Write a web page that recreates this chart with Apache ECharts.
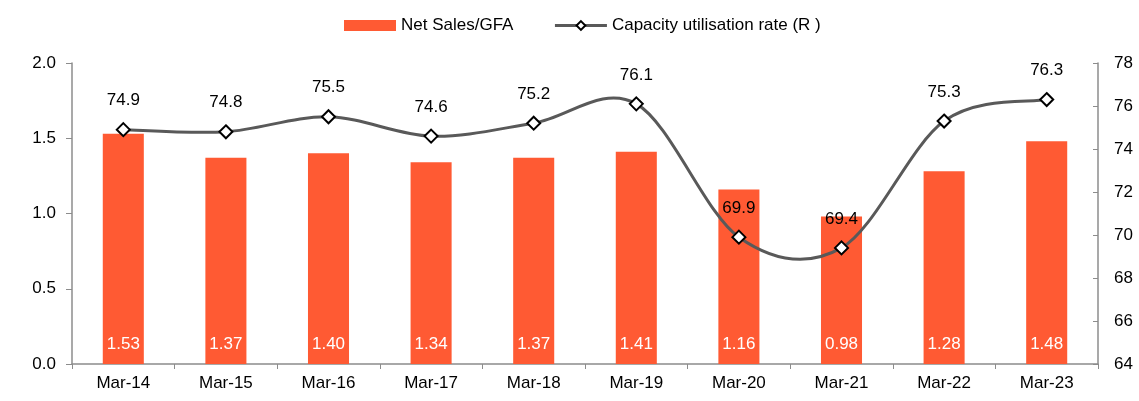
<!DOCTYPE html>
<html lang="en">
<head>
  <meta charset="UTF-8">
  <title>Net Sales/GFA</title>
  <script src="https://cdn.jsdelivr.net/npm/echarts@6/dist/echarts.min.js"></script>
  <style>
    html, body { margin: 0; padding: 0; background: #fff; }
    #chart { width: 1139px; height: 401px; }
  </style>
</head>
<body>
  <div id="chart"></div>
  <script>
    // data
    const categories = ['Mar-14', 'Mar-15', 'Mar-16', 'Mar-17', 'Mar-18', 'Mar-19', 'Mar-20', 'Mar-21', 'Mar-22', 'Mar-23'];
    const netSalesGfa = [1.53, 1.37, 1.40, 1.34, 1.37, 1.41, 1.16, 0.98, 1.28, 1.48];
    const capacityUtil = [74.9, 74.8, 75.5, 74.6, 75.2, 76.1, 69.9, 69.4, 75.3, 76.3];

    const FONT = "'Liberation Sans', Arial, sans-serif";
    const FS = 17;
    const axisGray = '#8c8c8c';
    const barColor = '#ff5a33';
    const lineColor = '#595959';

    const myChart = echarts.init(document.getElementById('chart'), null, { renderer: 'canvas' });

    // excel-style smooth curve through the points (catmull-rom -> bezier)
    function renderCurve(params, api) {
      if (params.dataIndex !== 0) return null;
      const pts = capacityUtil.map((v, i) => api.coord([i, v]));
      let d = 'M' + pts[0][0] + ' ' + pts[0][1];
      for (let i = 0; i < pts.length - 1; i++) {
        const p0 = pts[Math.max(i - 1, 0)];
        const p1 = pts[i];
        const p2 = pts[i + 1];
        const p3 = pts[Math.min(i + 2, pts.length - 1)];
        const c1x = p1[0] + (p2[0] - p0[0]) / 6, c1y = p1[1] + (p2[1] - p0[1]) / 6;
        const c2x = p2[0] - (p3[0] - p1[0]) / 6, c2y = p2[1] - (p3[1] - p1[1]) / 6;
        d += ' C' + c1x + ' ' + c1y + ' ' + c2x + ' ' + c2y + ' ' + p2[0] + ' ' + p2[1];
      }
      return {
        type: 'path',
        shape: { pathData: d },
        style: { fill: null, stroke: lineColor, lineWidth: 3 }
      };
    }

    const option = {
      animation: false,
      textStyle: { fontFamily: FONT },
      legend: {
        top: 12,
        left: 339,
        itemGap: 40,
        textStyle: { fontFamily: FONT, fontSize: FS, color: '#000' },
        data: [
          { name: 'Net Sales/GFA', icon: 'rect', itemStyle: { color: barColor } },
          { name: 'Capacity utilisation rate (R )', lineStyle: { width: 3, color: lineColor, opacity: 1 } }
        ],
        itemWidth: 52,
        itemHeight: 11
      },
      grid: { left: 72, right: 41, top: 63, bottom: 37 },
      xAxis: {
        type: 'category',
        data: categories,
        axisLine: { lineStyle: { color: axisGray, width: 1.5 } },
        axisTick: { show: true, length: 5, lineStyle: { color: axisGray } },
        axisLabel: { fontFamily: FONT, fontSize: FS, color: '#000', margin: 11 }
      },
      yAxis: [
        {
          type: 'value',
          min: 0, max: 2, interval: 0.5,
          splitLine: { show: false },
          axisLine: { show: true, lineStyle: { color: axisGray, width: 1.5 } },
          axisTick: { show: true, length: 6, lineStyle: { color: axisGray } },
          axisLabel: { fontFamily: FONT, fontSize: FS, color: '#000', margin: 16, formatter: v => v.toFixed(1) }
        },
        {
          type: 'value',
          min: 64, max: 78, interval: 2,
          splitLine: { show: false },
          axisLine: { show: true, lineStyle: { color: axisGray, width: 1.5 } },
          axisTick: { show: true, inside: true, length: 5, lineStyle: { color: axisGray } },
          axisLabel: { fontFamily: FONT, fontSize: FS, color: '#000', margin: 16 }
        }
      ],
      series: [
        {
          name: 'Net Sales/GFA',
          type: 'bar',
          data: netSalesGfa,
          barWidth: '40%',
          itemStyle: { color: barColor },
          label: {
            show: true,
            position: 'insideBottom',
            distance: 11,
            color: '#fff',
            fontFamily: FONT,
            fontSize: FS,
            formatter: p => p.value.toFixed(2)
          }
        },
        {
          name: 'curve',
          type: 'custom',
          yAxisIndex: 1,
          data: capacityUtil.map((v, i) => [i, v]),
          renderItem: renderCurve,
          silent: true,
          z: 3
        },
        {
          name: 'Capacity utilisation rate (R )',
          type: 'line',
          yAxisIndex: 1,
          data: capacityUtil,
          symbol: 'diamond',
          symbolSize: 13,
          lineStyle: { color: lineColor, width: 0, opacity: 0 },
          itemStyle: { color: '#fff', borderColor: '#000', borderWidth: 2 },
          label: {
            show: true,
            position: 'top',
            distance: 13,
            color: '#000',
            fontFamily: FONT,
            fontSize: FS,
            formatter: p => p.value.toFixed(1)
          },
          z: 5
        }
      ]
    };

    option && myChart.setOption(option);
  </script>
</body>
</html>
